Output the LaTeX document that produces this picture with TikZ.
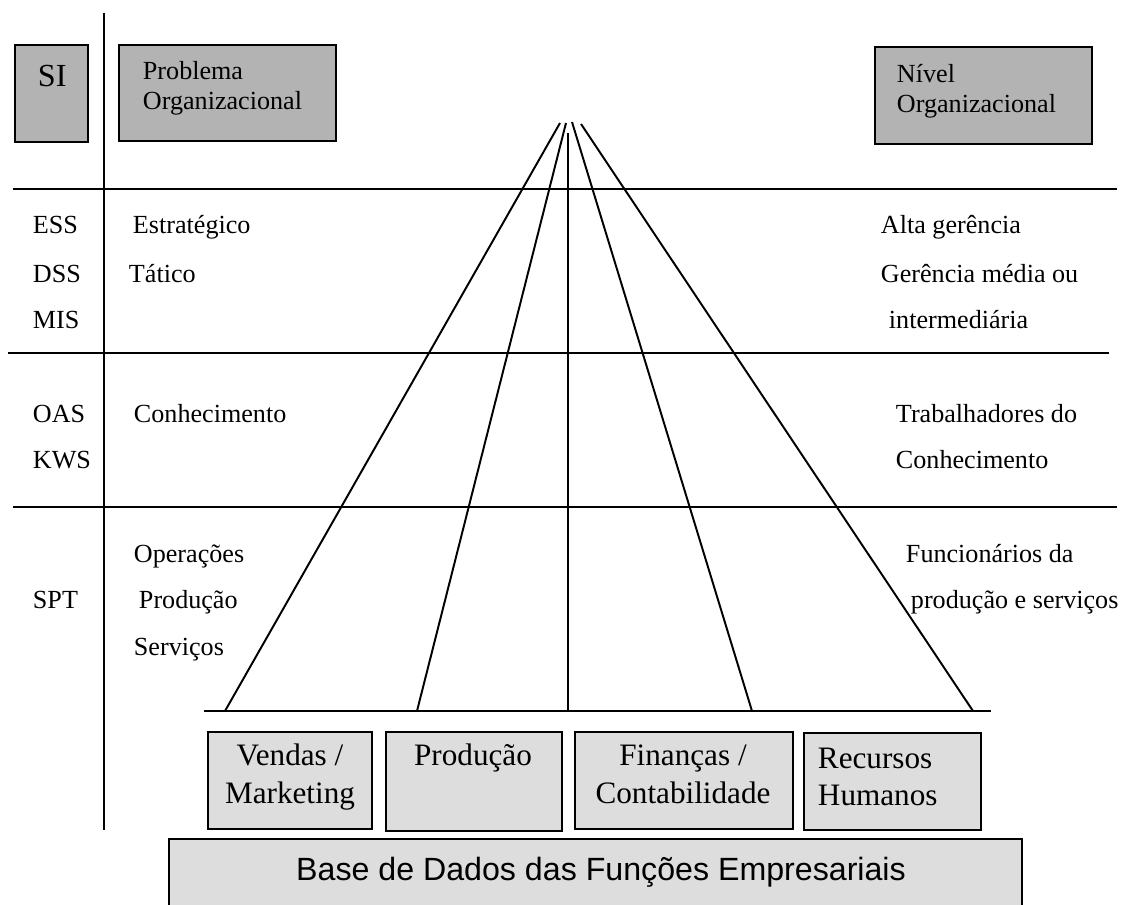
\documentclass[tikz,border=0pt]{standalone}
\usepackage{fontspec}
\setmainfont{Liberation Serif}
\newfontfamily\arialfont{Liberation Sans}
\usepackage{tikz}
\definecolor{boxgray}{HTML}{B3B3B3}
\definecolor{boxlight}{HTML}{DDDDDD}

\begin{document}
\begin{tikzpicture}[x=0.513pt, y=-0.513pt, line width=1pt,
    lbl/.style={anchor=base west, inner sep=0pt, font=\fontsize{13.4}{15}\selectfont},
    func/.style={anchor=base, inner sep=0pt, font=\fontsize{16}{19}\selectfont},
    topbox/.style={draw, line width=0.8pt, fill=boxgray},
    funcbox/.style={draw, line width=0.8pt, fill=boxlight}]
\useasboundingbox (0,0) rectangle (1125,905);

\draw[topbox] (15,45) rectangle (88,142);
\draw[topbox] (119,45) rectangle (336,141);
\draw[topbox] (875,47) rectangle (1092,144);
\node[lbl, font=\fontsize{16.5}{19}\selectfont] (si) at (37,87) {SI};
\node[lbl] (probA) at (142,80) {Problema};
\node[lbl] (probB) at (142,110) {Organizacional};
\node[lbl] (nivA) at (896,83) {Nível};
\node[lbl] (nivB) at (896,113) {Organizacional};

\coordinate (sepTop) at (104,13);
\coordinate (sepBot) at (104,830);
\draw (sepTop) -- (sepBot);
\coordinate (rowAw) at (13,189);  \coordinate (rowAe) at (1117,189);
\coordinate (rowBw) at (8,353);   \coordinate (rowBe) at (1109,353);
\coordinate (rowCw) at (13,507);  \coordinate (rowCe) at (1117,507);
\coordinate (baseW) at (204,711); \coordinate (baseE) at (991,711);
\draw (rowAw) -- (rowAe);
\draw (rowBw) -- (rowBe);
\draw (rowCw) -- (rowCe);
\draw (baseW) -- (baseE);

\node[lbl] (ess) at (32,233) {ESS};
\node[lbl] (dss) at (32,282) {DSS};
\node[lbl] (mis) at (32,328) {MIS};
\node[lbl] (oas) at (32,422) {OAS};
\node[lbl] (kws) at (32,468) {KWS};
\node[lbl] (spt) at (32,608) {SPT};

\node[lbl] (estr) at (132,233) {Estratégico};
\node[lbl] (tat) at (128,282) {Tático};
\node[lbl] (conh) at (133,422) {Conhecimento};
\node[lbl] (oper) at (133,562) {Operações};
\node[lbl] (prod) at (138,608) {Produção};
\node[lbl] (serv) at (133,655) {Serviços};

\node[lbl] (alta) at (880,233) {Alta gerência};
\node[lbl] (media) at (880,282) {Gerência média ou};
\node[lbl] (inter) at (888,328) {intermediária};
\node[lbl] (trabA) at (895,422) {Trabalhadores do};
\node[lbl] (trabB) at (895,468) {Conhecimento};
\node[lbl] (funcA) at (905,562) {Funcionários da};
\node[lbl] (funcB) at (910,608) {produção e serviços};

\coordinate (apexA) at (560,123);
\coordinate (apexB) at (566,123);
\coordinate (apexC) at (568,133);
\coordinate (apexD) at (572,122);
\coordinate (apexE) at (581,124);
\coordinate (footA) at (225,711);
\coordinate (footB) at (417,711);
\coordinate (footC) at (568,711);
\coordinate (footD) at (752,711);
\coordinate (footE) at (973,711);
\draw (apexA) -- (footA);
\draw (apexB) -- (footB);
\draw (apexC) -- (footC);
\draw (apexD) -- (footD);
\draw (apexE) -- (footE);

\draw[funcbox] (208,732) rectangle (372,829);
\draw[funcbox] (386,732) rectangle (562,831);
\draw[funcbox] (575,732) rectangle (793,829);
\draw[funcbox] (804,733) rectangle (981,830);
\node[func] (vendA) at (290,765) {Vendas /};
\node[func] (vendB) at (290,803) {Marketing};
\node[func] (produ) at (473,765) {Produção};
\node[func] (finA) at (683,765) {Finanças /};
\node[func] (finB) at (683,803) {Contabilidade};
\node[func, anchor=base west] (recA) at (817,768) {Recursos};
\node[func, anchor=base west] (recB) at (817,805) {Humanos};

\fill[boxlight] (169,839) rectangle (1022,905);
\draw[line width=0.8pt] (169,905) -- (169,839) -- (1022,839) -- (1022,905);
\node[func, font=\arialfont\fontsize{16.5}{19}\selectfont] (bdados) at (601,880)
    {Base de Dados das Funções Empresariais};
\end{tikzpicture}
\end{document}
